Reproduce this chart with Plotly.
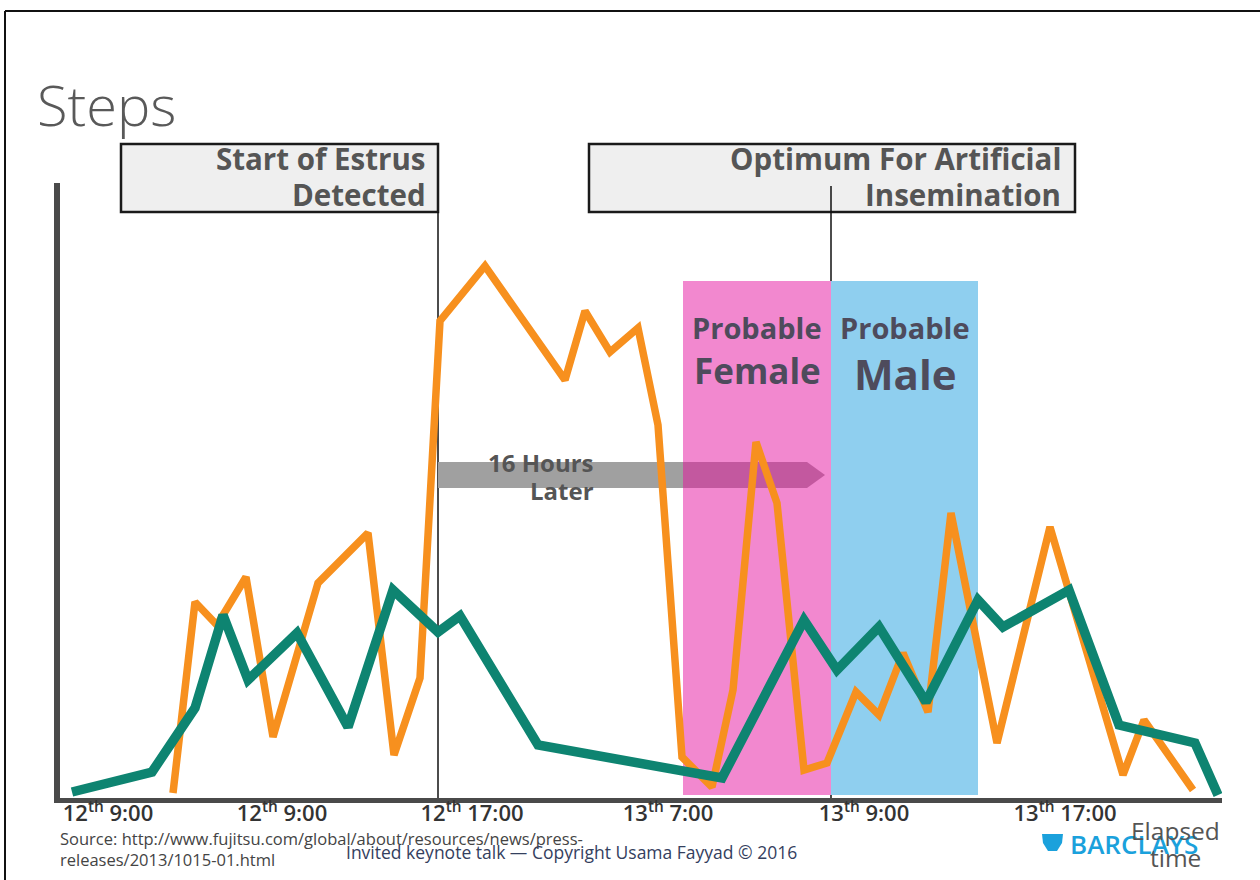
import plotly.graph_objects as go

# ---------------- data ----------------
# x: elapsed-time units along the axis, y: steps
teal_x = [15, 95, 138, 166, 191, 240, 291, 336, 381, 403, 481, 665, 747, 780, 822, 869, 921, 946, 1012, 1062, 1138, 1161]
teal_y = [3, 23, 87, 180, 115, 162, 68, 205, 163, 179, 50, 17, 175, 125, 168, 93, 195, 168, 205, 70, 52, 0]

orange_x = [116, 138, 160, 189, 216, 261, 311, 337, 363, 383, 428, 508, 528, 553, 581, 601, 625, 655, 676,
            699, 720, 747, 770, 799, 822, 846, 871, 894, 940, 993, 1066, 1087, 1136]
orange_y = [2, 193, 170, 218, 58, 212, 262, 40, 117, 474, 529, 415, 484, 443, 467, 370, 38, 8, 105,
            353, 292, 25, 32, 103, 80, 142, 83, 282, 52, 268, 20, 75, 5]

tick_vals = [51, 225, 415, 611, 807, 1008]
tick_text = ["12<sup>th</sup> 9:00", "12<sup>th</sup> 9:00", "12<sup>th</sup> 17:00",
             "13<sup>th</sup> 7:00", "13<sup>th</sup> 9:00", "13<sup>th</sup> 17:00"]

estrus_x = 381          # start of estrus detected
optimum_x = 774         # optimum for AI
female_x0 = 626         # probable female window start
male_x1 = 921           # probable male window end
window_top = 514
arrow_y0, arrow_y1 = 307, 333

# ---------------- layout geometry ----------------
W, H = 1260, 880
ML, MR, MT, MB = 60, 38, 183, 82
PW, PH = W - ML - MR, H - MT - MB


def px(xp):
    return (xp - ML) / PW


def ppy(ypix):
    # pixel from top -> paper y
    return (H - MB - ypix) / PH


fig = go.Figure()

fig.add_trace(go.Scatter(x=orange_x, y=orange_y, mode="lines",
                         line=dict(color="#f7901e", width=7.5), showlegend=False,
                         hoverinfo="skip"))
fig.add_trace(go.Scatter(x=teal_x, y=teal_y, mode="lines",
                         line=dict(color="#0e8471", width=9.5), showlegend=False,
                         hoverinfo="skip"))

shapes = []
# shaded windows
shapes.append(dict(type="rect", xref="x", yref="y", x0=female_x0, x1=optimum_x, y0=0, y1=window_top,
                   fillcolor="#f288cf", line=dict(width=0), layer="below"))
shapes.append(dict(type="rect", xref="x", yref="y", x0=optimum_x, x1=male_x1, y0=0, y1=window_top,
                   fillcolor="#8fcfef", line=dict(width=0), layer="below"))
# arrow: grey part and magenta part over pink
shapes.append(dict(type="rect", xref="x", yref="y", x0=estrus_x, x1=female_x0, y0=arrow_y0, y1=arrow_y1,
                   fillcolor="#a0a0a0", line=dict(width=0), layer="below"))
mid = (arrow_y0 + arrow_y1) / 2
shapes.append(dict(type="path", xref="x", yref="y",
                   path=f"M {female_x0},{arrow_y0} L {optimum_x-24},{arrow_y0} L {optimum_x-6},{mid} "
                        f"L {optimum_x-24},{arrow_y1} L {female_x0},{arrow_y1} Z",
                   fillcolor="#c3589f", line=dict(width=0), layer="below"))


def box(x0, x1, top, bottom):
    return dict(type="rect", xref="paper", yref="paper", x0=px(x0), x1=px(x1), y0=ppy(bottom), y1=ppy(top),
                fillcolor="#efefef", line=dict(color="#1a1a1a", width=2.5), layer="below")


shapes.append(box(121, 438, 144, 212))
shapes.append(box(589, 1075, 144, 212))

# vertical marker lines
shapes.append(dict(type="line", xref="x", yref="paper", x0=estrus_x, x1=estrus_x, y0=ppy(798), y1=ppy(212),
                   line=dict(color="#111111", width=1.5), layer="below"))
shapes.append(dict(type="line", xref="x", yref="paper", x0=optimum_x, x1=optimum_x, y0=ppy(798), y1=ppy(186),
                   line=dict(color="#111111", width=1.5), layer="below"))

# frame lines
shapes.append(dict(type="line", xref="paper", yref="paper", x0=px(5), x1=px(1260), y0=ppy(11), y1=ppy(11),
                   line=dict(color="#111111", width=2)))
shapes.append(dict(type="line", xref="paper", yref="paper", x0=px(5), x1=px(5), y0=ppy(11), y1=ppy(880),
                   line=dict(color="#111111", width=2)))

# barclays eagle-ish logo
lx, ly = 1042, 834
shapes.append(dict(type="path", xref="paper", yref="paper",
                   path=(f"M {px(lx)},{ppy(ly)} L {px(lx+21)},{ppy(ly)} L {px(lx+20)},{ppy(ly+9)} "
                         f"L {px(lx+15)},{ppy(ly+17)} L {px(lx+6)},{ppy(ly+17)} L {px(lx+1)},{ppy(ly+9)} Z"),
                   fillcolor="#1ba1dc", line=dict(width=0)))

annotations = []


def ann(text, xpix, ypix, size, color="#555555", xanchor="left", weight=400, family="Open Sans", yanchor="middle"):
    annotations.append(dict(text=text, xref="paper", yref="paper", x=px(xpix), y=ppy(ypix),
                            xanchor=xanchor, yanchor=yanchor, showarrow=False,
                            font=dict(size=size, color=color, family=family, weight=weight)))


ann("Steps", 35, 104, 56, color="#595959", weight=300)
ann("Start of Estrus", 428, 159, 29.5, weight=700, xanchor="right")
ann("Detected", 428, 194, 29.5, weight=700, xanchor="right")
ann("Optimum For Artificial", 1063, 159, 29.5, weight=700, xanchor="right")
ann("Insemination", 1063, 194, 29.5, weight=700, xanchor="right")
ann("Probable", 757, 327, 29, color="#4e4b5c", weight=700, xanchor="center")
ann("Female", 757, 370, 35, color="#4e4b5c", weight=700, xanchor="center")
ann("Probable", 905, 327, 29, color="#4e4b5c", weight=700, xanchor="center")
ann("Male", 905, 373, 42, color="#4e4b5c", weight=700, xanchor="center")
ann("16 Hours", 596, 462, 24, color="#555555", weight=700, xanchor="right")
ann("Later", 596, 490, 24, color="#555555", weight=700, xanchor="right")
ann("Source: http://www.fujitsu.com/global/about/resources/news/press-", 58, 838, 16.5, color="#444444")
ann("releases/2013/1015-01.html", 58, 859, 16.5, color="#444444")
ann("Invited keynote talk — Copyright Usama Fayyad © 2016", 344, 852, 17.5, color="#34405e")
ann("BARCLAYS", 1068, 844, 26, color="#1ba1dc", weight=600)
ann("Elapsed", 1175, 830, 24.5, color="#555555", xanchor="center")
ann("time", 1175, 857, 24.5, color="#555555", xanchor="center")

fig.update_layout(
    width=W, height=H,
    margin=dict(l=ML, r=MR, t=MT, b=MB, pad=0),
    paper_bgcolor="white", plot_bgcolor="white",
    shapes=shapes, annotations=annotations,
    xaxis=dict(range=[3, 1165], showgrid=False, zeroline=False, showline=True,
               linecolor="#4a4a4a", linewidth=5, tickmode="array", tickvals=tick_vals,
               ticktext=tick_text, ticks="", ticklabelstandoff=-8,
               tickfont=dict(size=22, color="#333333", family="Open Sans", weight=600)),
    yaxis=dict(range=[-3, 612], showgrid=False, zeroline=False, showline=True,
               linecolor="#4a4a4a", linewidth=6, showticklabels=False, ticks=""),
)

fig.write_html("out.html", config={"displayModeBar": False},
               post_script="document.body.style.margin='0';")
